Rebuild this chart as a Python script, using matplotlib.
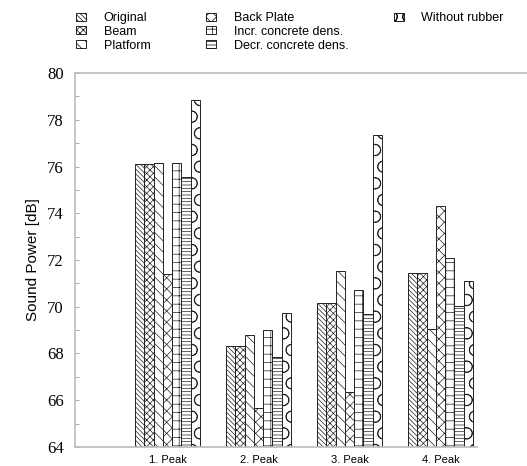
import numpy as np
import matplotlib.pyplot as plt
from matplotlib.patches import Patch
from matplotlib.ticker import MultipleLocator

plt.rcParams['hatch.linewidth'] = 0.5

peaks = ["1. Peak", "2. Peak", "3. Peak", "4. Peak"]
variants = ["Original", "Beam", "Platform", "Back Plate",
            "Incr. concrete dens.", "Decr. concrete dens.", "Without rubber"]

original = [76.1, 68.3, 70.15, 71.45]
beam = [76.1, 68.3, 70.15, 71.45]
platform = [76.15, 68.8, 71.55, 69.05]
back_plate = [71.4, 65.65, 66.35, 74.3]
incr_dens = [76.15, 69.0, 70.7, 72.1]
decr_dens = [75.55, 67.85, 69.7, 70.05]
without_rubber = [78.85, 69.75, 77.35, 71.1]

series = [original, beam, platform, back_plate, incr_dens, decr_dens, without_rubber]
hatches = ["\\" * 7, "xxxxx", "\\\\\\", "xxx", "++", "-----", "O"]

fig = plt.figure(figsize=(5.27, 4.66), dpi=100)
ax = fig.add_axes([0.1423, 0.0408, 0.8577, 0.8025])

x = np.arange(len(peaks))
w = 0.102
handles = []
for i, (vals, name, h) in enumerate(zip(series, variants, hatches)):
    pos = x - 3 * w + i * w
    ax.bar(pos, np.array(vals) - 64, bottom=64, width=w, color="white",
           edgecolor="#222222", linewidth=0.7, hatch=h)
    handles.append(Patch(facecolor="white", edgecolor="black", linewidth=0.6,
                         hatch=h, label=name))

ax.set_ylim(64, 80)
ax.set_xlim(-1.016, 3.95)
ax.yaxis.set_major_locator(MultipleLocator(2))
ax.yaxis.set_minor_locator(MultipleLocator(1))
ax.tick_params(axis="y", which="both", direction="in", length=3, width=0.6,
               color="#999999", labelsize=12, pad=8)
ax.tick_params(axis="x", length=0, labelsize=8, pad=6)
for lab in ax.get_yticklabels():
    lab.set_family("Liberation Serif")
ax.set_xticks(x)
ax.set_xticklabels(peaks, family="Liberation Sans")
ax.set_ylabel("Sound Power [dB]", family="Liberation Sans", fontsize=11, labelpad=5)

for s in ["left", "top", "bottom"]:
    ax.spines[s].set_color("#bbbbbb")
    ax.spines[s].set_linewidth(1.2)
ax.spines["right"].set_visible(False)
ax.spines["bottom"].set_bounds(-1.016, 3.40)

cols = [(handles[0:3], 0.135), (handles[3:6], 0.382), (handles[6:7], 0.738)]
for hs, xp in cols:
    fig.legend(handles=hs, loc="upper left", bbox_to_anchor=(xp, 0.985),
               frameon=False, prop={"family": "Liberation Sans", "size": 9},
               handlelength=0.8, handleheight=0.6, handletextpad=1.4,
               labelspacing=0.15, borderaxespad=0)

fig.savefig("out.png", dpi=100)
